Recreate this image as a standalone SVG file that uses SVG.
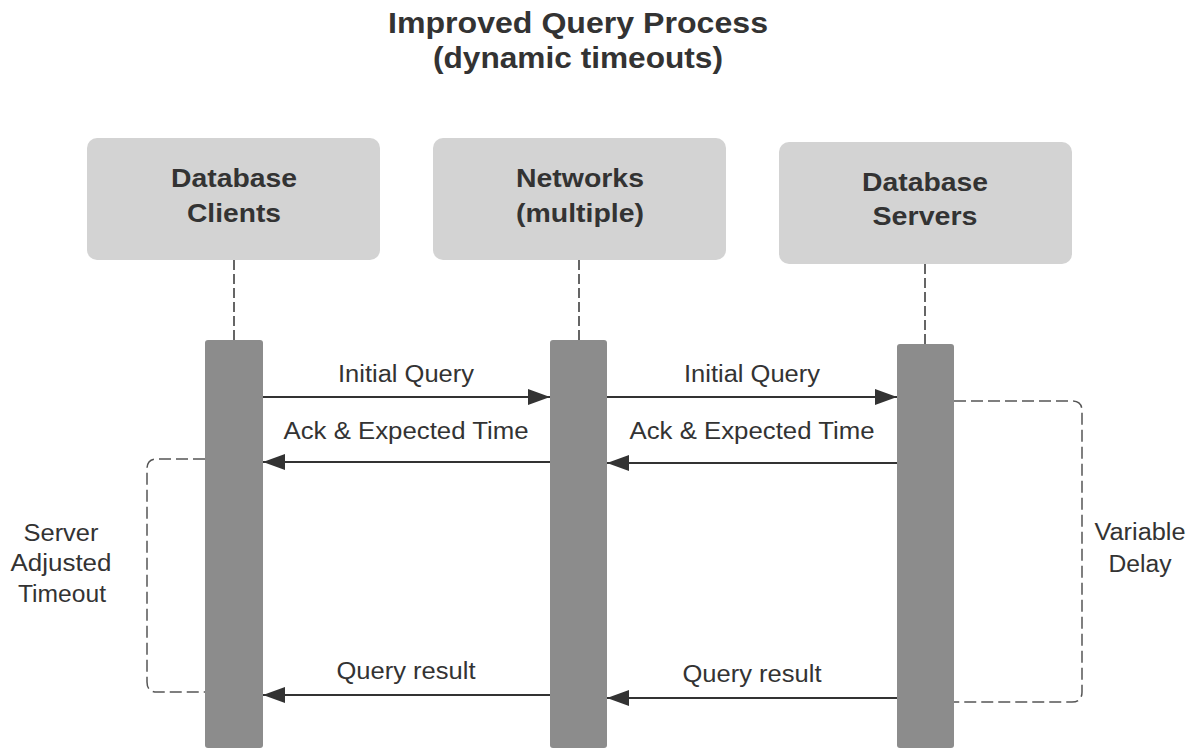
<svg xmlns="http://www.w3.org/2000/svg" width="1195" height="749" viewBox="0 0 1195 749">
<defs>
<marker id="ah" viewBox="0 0 22 16" refX="22" refY="8" markerWidth="22" markerHeight="16" markerUnits="userSpaceOnUse" orient="auto">
<path d="M0,0 L22,8 L0,16 Z" fill="#333"/>
</marker>
</defs>
<style>
text{font-family:"Liberation Sans",Arial,sans-serif;fill:#333;text-anchor:middle}
.title{font-size:29px;font-weight:bold}
.hdr{font-size:25px;font-weight:bold}
.lbl{font-size:23px}
.box{fill:#d3d3d3}
.bar{fill:#8c8c8c}
.life{stroke:#333;stroke-width:1.5;stroke-dasharray:10,4;fill:none}
.msg{stroke:#333;stroke-width:1.8;fill:none;marker-end:url(#ah)}
.brk{stroke:#555;stroke-width:1.5;stroke-dasharray:12,5;fill:none}
</style>
<rect width="1195" height="749" fill="#fff"/>
<g id="title">
<text class="title" x="578" y="33" textLength="380" lengthAdjust="spacingAndGlyphs">Improved Query Process</text>
<text class="title" x="578" y="68" textLength="290" lengthAdjust="spacingAndGlyphs">(dynamic timeouts)</text>
</g>
<g id="clients">
<rect class="box" x="87" y="138" width="293" height="122" rx="10"/>
<text class="hdr" x="234" y="187" textLength="126" lengthAdjust="spacingAndGlyphs">Database</text>
<text class="hdr" x="234" y="222" textLength="94" lengthAdjust="spacingAndGlyphs">Clients</text>
<rect class="bar" x="205" y="340" width="58" height="408" rx="3"/>
</g>
<g id="networks">
<rect class="box" x="433" y="138" width="293" height="122" rx="10"/>
<text class="hdr" x="580" y="187" textLength="128" lengthAdjust="spacingAndGlyphs">Networks</text>
<text class="hdr" x="580" y="222" textLength="128" lengthAdjust="spacingAndGlyphs">(multiple)</text>
<rect class="bar" x="550" y="340" width="57" height="408" rx="3"/>
</g>
<g id="servers">
<rect class="box" x="779" y="142" width="293" height="122" rx="10"/>
<text class="hdr" x="925" y="191" textLength="126" lengthAdjust="spacingAndGlyphs">Database</text>
<text class="hdr" x="925" y="225" textLength="105" lengthAdjust="spacingAndGlyphs">Servers</text>
<rect class="bar" x="897" y="344" width="57" height="404" rx="3"/>
</g>
<g id="connectors">
<line class="life" x1="234" y1="260" x2="234" y2="340"/>
<line class="life" x1="579" y1="260" x2="579" y2="340"/>
<line class="life" x1="925" y1="264" x2="925" y2="344"/>
<line class="msg" x1="263" y1="397" x2="550" y2="397"/>
<line class="msg" x1="607" y1="397" x2="897" y2="397"/>
<line class="msg" x1="550" y1="462" x2="263" y2="462"/>
<line class="msg" x1="897" y1="463" x2="607" y2="463"/>
<line class="msg" x1="550" y1="695" x2="263" y2="695"/>
<line class="msg" x1="897" y1="698" x2="607" y2="698"/>
<path class="brk" d="M205,459 H157 Q147,459 147,469 V682 Q147,692 157,692 H205"/>
<path class="brk" d="M954,401 H1072 Q1082,401 1082,411 V692 Q1082,702 1072,702 H954"/>
</g>
<g id="labels">
<text class="lbl" x="406" y="382" textLength="136" lengthAdjust="spacingAndGlyphs">Initial Query</text>
<text class="lbl" x="752" y="382" textLength="136" lengthAdjust="spacingAndGlyphs">Initial Query</text>
<text class="lbl" x="406" y="439" textLength="245" lengthAdjust="spacingAndGlyphs">Ack &amp; Expected Time</text>
<text class="lbl" x="752" y="439" textLength="245" lengthAdjust="spacingAndGlyphs">Ack &amp; Expected Time</text>
<text class="lbl" x="406" y="679" textLength="139" lengthAdjust="spacingAndGlyphs">Query result</text>
<text class="lbl" x="752" y="682" textLength="139" lengthAdjust="spacingAndGlyphs">Query result</text>
<text class="lbl" x="61" y="541" textLength="75" lengthAdjust="spacingAndGlyphs">Server</text>
<text class="lbl" x="61" y="571" textLength="101" lengthAdjust="spacingAndGlyphs">Adjusted</text>
<text class="lbl" x="62" y="602" textLength="88" lengthAdjust="spacingAndGlyphs">Timeout</text>
<text class="lbl" x="1140" y="540" textLength="91" lengthAdjust="spacingAndGlyphs">Variable</text>
<text class="lbl" x="1140" y="572" textLength="63" lengthAdjust="spacingAndGlyphs">Delay</text>
</g>
</svg>
